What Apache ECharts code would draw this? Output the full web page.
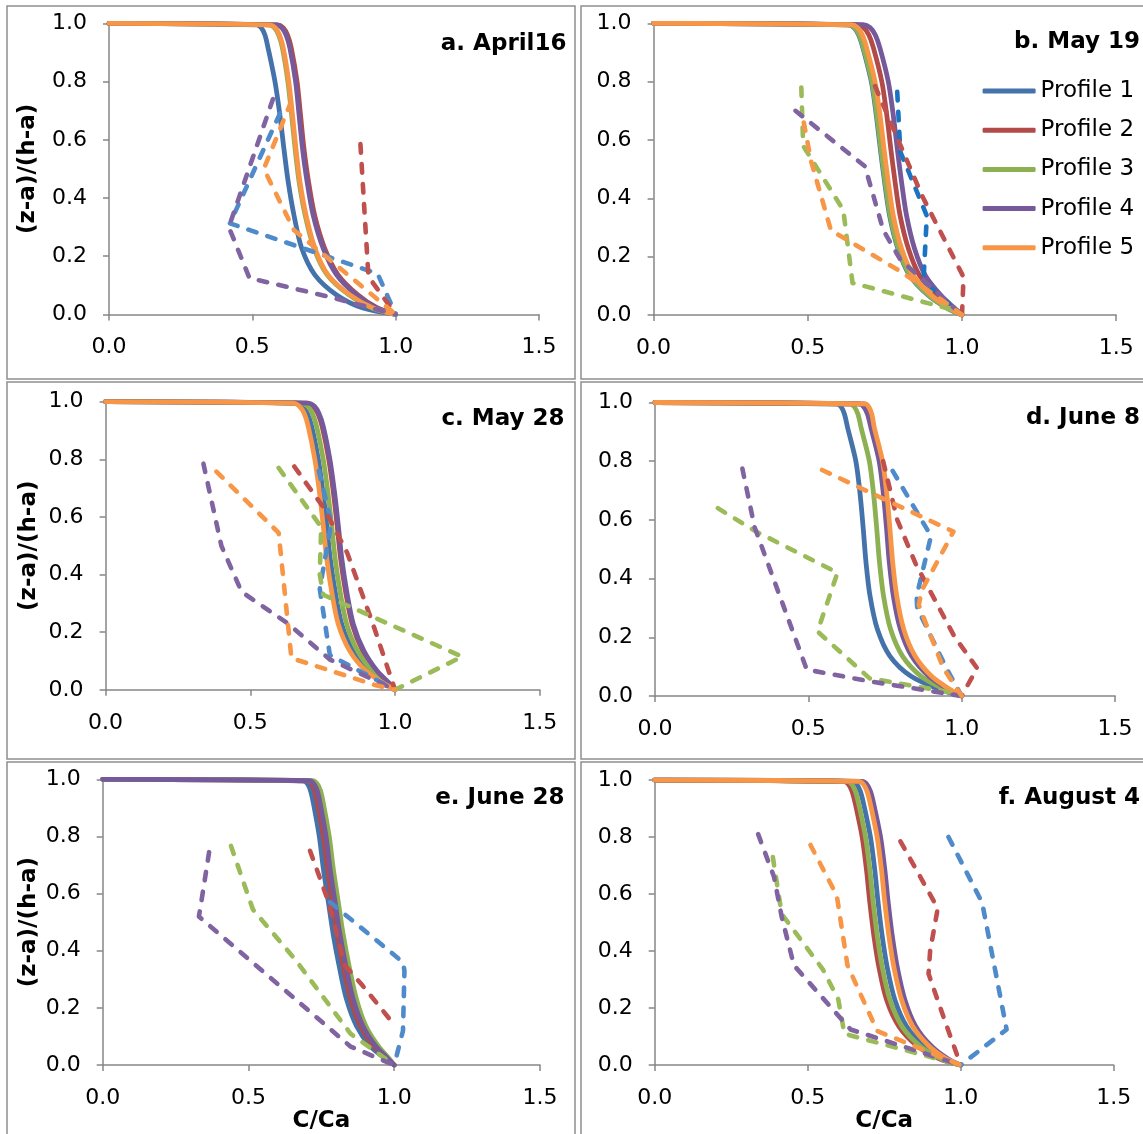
<!DOCTYPE html>
<html>
<head>
<meta charset="utf-8">
<script src="https://cdn.jsdelivr.net/npm/echarts@6/dist/echarts.min.js"></script>
<style>
html,body{margin:0;padding:0;background:#fff;}
#chart{width:1143px;height:1134px;}
</style>
</head>
<body>
<div id="chart"></div>
<script>
// ---------- data ----------
const panelTitles = ['a. April16', 'b. May 19', 'c. May 28', 'd. June 8', 'e. June 28', 'f. August 4'];
const profileNames = ['Profile 1', 'Profile 2', 'Profile 3', 'Profile 4', 'Profile 5'];
const xTickLabels = ['0.0', '0.5', '1.0', '1.5'];
const yTickLabels = ['0.0', '0.2', '0.4', '0.6', '0.8', '1.0'];

// y levels at which the modelled (solid) curves were read
const ySolid = [1.0, 0.995, 0.985, 0.96, 0.915, 0.80, 0.686, 0.571, 0.456, 0.342, 0.228, 0.136, 0.067, 0.022, 0.0];

// modelled C/Ca at the ySolid levels
const aM1 = [0, 0.515, 0.531, 0.544, 0.555, 0.579, 0.596, 0.610, 0.625, 0.645, 0.672, 0.718, 0.794, 0.886, 1.0];
const aM2 = [0, 0.590, 0.608, 0.623, 0.636, 0.656, 0.668, 0.680, 0.696, 0.717, 0.752, 0.799, 0.868, 0.936, 1.0];
const aM3 = [0, 0.558, 0.577, 0.592, 0.605, 0.624, 0.637, 0.649, 0.663, 0.684, 0.715, 0.761, 0.837, 0.919, 1.0];
const aM4 = [0, 0.585, 0.603, 0.618, 0.631, 0.651, 0.663, 0.675, 0.691, 0.712, 0.747, 0.794, 0.863, 0.933, 1.0];
const aM5 = [0, 0.561, 0.580, 0.595, 0.608, 0.627, 0.640, 0.652, 0.666, 0.687, 0.718, 0.764, 0.840, 0.921, 1.0];

const bM1 = [0, 0.630, 0.650, 0.665, 0.679, 0.706, 0.722, 0.735, 0.749, 0.765, 0.792, 0.830, 0.891, 0.954, 1.0];
const bM2 = [0, 0.660, 0.681, 0.698, 0.713, 0.740, 0.756, 0.769, 0.783, 0.799, 0.826, 0.862, 0.918, 0.970, 1.0];
const bM3 = [0, 0.632, 0.652, 0.667, 0.681, 0.708, 0.724, 0.737, 0.751, 0.767, 0.794, 0.832, 0.893, 0.955, 1.0];
const bM4 = [0, 0.680, 0.702, 0.719, 0.734, 0.761, 0.777, 0.790, 0.804, 0.820, 0.846, 0.881, 0.932, 0.977, 1.0];
const bM5 = [0, 0.642, 0.662, 0.677, 0.691, 0.718, 0.734, 0.747, 0.761, 0.777, 0.804, 0.842, 0.902, 0.961, 1.0];

const cM1 = [0, 0.660, 0.681, 0.697, 0.712, 0.735, 0.751, 0.764, 0.776, 0.793, 0.816, 0.854, 0.907, 0.967, 1.0];
const cM2 = [0, 0.695, 0.716, 0.733, 0.748, 0.771, 0.787, 0.800, 0.812, 0.829, 0.852, 0.888, 0.934, 0.979, 1.0];
const cM3 = [0, 0.675, 0.697, 0.714, 0.729, 0.752, 0.768, 0.781, 0.793, 0.810, 0.833, 0.870, 0.920, 0.973, 1.0];
const cM4 = [0, 0.700, 0.721, 0.737, 0.752, 0.775, 0.791, 0.804, 0.816, 0.833, 0.856, 0.892, 0.937, 0.981, 1.0];
const cM5 = [0, 0.649, 0.669, 0.686, 0.700, 0.723, 0.739, 0.752, 0.764, 0.781, 0.804, 0.843, 0.898, 0.962, 1.0];

const dM1 = [0, 0.593, 0.607, 0.618, 0.628, 0.655, 0.669, 0.679, 0.688, 0.701, 0.725, 0.766, 0.835, 0.930, 1.0];
const dM2 = [0, 0.682, 0.694, 0.704, 0.712, 0.739, 0.753, 0.763, 0.772, 0.785, 0.808, 0.845, 0.899, 0.960, 1.0];
const dM3 = [0, 0.636, 0.650, 0.662, 0.672, 0.699, 0.713, 0.723, 0.732, 0.745, 0.768, 0.807, 0.868, 0.945, 1.0];
const dM4 = [0, 0.665, 0.681, 0.693, 0.704, 0.731, 0.745, 0.755, 0.764, 0.777, 0.800, 0.837, 0.893, 0.957, 1.0];
const dM5 = [0, 0.685, 0.697, 0.707, 0.715, 0.742, 0.756, 0.766, 0.775, 0.788, 0.811, 0.848, 0.902, 0.962, 1.0];

const eM1 = [0, 0.688, 0.702, 0.713, 0.723, 0.743, 0.757, 0.774, 0.791, 0.812, 0.837, 0.871, 0.917, 0.970, 1.0];
const eM2 = [0, 0.700, 0.715, 0.727, 0.737, 0.757, 0.771, 0.788, 0.805, 0.826, 0.851, 0.884, 0.928, 0.975, 1.0];
const eM3 = [0, 0.720, 0.735, 0.747, 0.757, 0.777, 0.791, 0.808, 0.825, 0.846, 0.871, 0.903, 0.945, 0.983, 1.0];
const eM4 = [0, 0.710, 0.724, 0.736, 0.746, 0.766, 0.780, 0.797, 0.814, 0.835, 0.860, 0.893, 0.936, 0.979, 1.0];
const eM5 = null;

const fM1 = [0, 0.645, 0.660, 0.672, 0.683, 0.705, 0.719, 0.730, 0.743, 0.760, 0.785, 0.823, 0.880, 0.944, 1.0];
const fM2 = [0, 0.618, 0.633, 0.645, 0.656, 0.678, 0.692, 0.703, 0.716, 0.733, 0.758, 0.798, 0.858, 0.930, 1.0];
const fM3 = [0, 0.629, 0.644, 0.656, 0.667, 0.689, 0.703, 0.714, 0.727, 0.744, 0.769, 0.808, 0.867, 0.936, 1.0];
const fM4 = [0, 0.678, 0.693, 0.705, 0.716, 0.738, 0.752, 0.763, 0.776, 0.793, 0.818, 0.853, 0.904, 0.958, 1.0];
const fM5 = [0, 0.667, 0.682, 0.694, 0.705, 0.727, 0.741, 0.752, 0.765, 0.782, 0.807, 0.843, 0.896, 0.953, 1.0];

// measured profiles (dashed): [C/Ca, (z-a)/(h-a)]
const aO1 = [[0.596,0.69],[0.422,0.313],[0.937,0.14],[1.0,0.0]];
const aO2 = [[0.877,0.585],[0.905,0.13],[1.0,0.0]];
const aO3 = null;
const aO4 = [[0.572,0.74],[0.418,0.30],[0.49,0.125],[0.77,0.06],[1.0,0.0]];
const aO5 = [[0.635,0.73],[0.54,0.50],[0.645,0.29],[1.0,0.0]];

const bO1 = [[0.79,0.765],[0.80,0.56],[0.886,0.34],[0.875,0.115],[1.0,0.0]];
const bO2 = [[0.718,0.785],[0.87,0.41],[1.005,0.13],[1.0,0.0]];
const bO3 = [[0.479,0.78],[0.485,0.58],[0.615,0.36],[0.645,0.11],[0.98,0.015],[1.0,0.0]];
const bO4 = [[0.46,0.70],[0.685,0.51],[0.745,0.29],[0.80,0.19],[1.0,0.0]];
const bO5 = [[0.487,0.66],[0.51,0.53],[0.575,0.29],[0.80,0.15],[0.95,0.04],[1.0,0.0]];

const cO1 = [[0.737,0.76],[0.78,0.58],[0.74,0.35],[0.775,0.12],[1.0,0.0]];
const cO2 = [[0.652,0.775],[0.755,0.63],[0.835,0.475],[0.925,0.225],[1.0,0.0]];
const cO3 = [[0.598,0.77],[0.745,0.565],[0.74,0.40],[0.752,0.33],[1.232,0.115],[1.0,0.0]];
const cO4 = [[0.338,0.785],[0.40,0.50],[0.47,0.34],[0.63,0.23],[0.775,0.105],[1.0,0.0]];
const cO5 = [[0.383,0.757],[0.598,0.545],[0.642,0.11],[0.93,0.017],[1.0,0.0]];

const dO1 = [[0.775,0.767],[0.90,0.545],[0.853,0.34],[0.855,0.30],[0.95,0.095],[1.0,0.0]];
const dO2 = [[0.744,0.80],[0.79,0.60],[0.85,0.45],[0.975,0.205],[1.05,0.095],[1.0,0.0]];
const dO3 = [[0.205,0.64],[0.33,0.56],[0.595,0.42],[0.53,0.22],[0.70,0.06],[0.95,0.015],[1.0,0.0]];
const dO4 = [[0.285,0.775],[0.325,0.575],[0.495,0.09],[0.70,0.05],[1.0,0.0]];
const dO5 = [[0.545,0.77],[0.973,0.56],[0.87,0.36],[0.86,0.31],[0.94,0.095],[1.0,0.0]];

const eO1 = [[0.78,0.57],[1.03,0.36],[1.035,0.33],[1.03,0.12],[1.0,0.0]];
const eO2 = [[0.711,0.75],[0.775,0.57],[0.83,0.35],[0.89,0.28],[1.005,0.135]];
const eO3 = [[0.44,0.767],[0.515,0.545],[0.66,0.37],[0.85,0.11],[1.0,0.0]];
const eO4 = [[0.365,0.745],[0.335,0.55],[0.33,0.52],[0.85,0.065],[1.0,0.0]];
const eO5 = null;

const fO1 = [[0.96,0.80],[1.07,0.57],[1.15,0.125],[1.0,0.0]];
const fO2 = [[0.803,0.785],[0.925,0.55],[0.90,0.40],[0.895,0.32],[0.945,0.165],[1.0,0.0]];
const fO3 = [[0.386,0.73],[0.415,0.53],[0.55,0.335],[0.60,0.23],[0.62,0.11],[1.0,0.0]];
const fO4 = [[0.338,0.81],[0.39,0.66],[0.415,0.52],[0.455,0.35],[0.64,0.125],[1.0,0.0]];
const fO5 = [[0.509,0.772],[0.595,0.595],[0.63,0.35],[0.727,0.12],[1.0,0.0]];

const models = [
  [aM1, aM2, aM3, aM4, aM5], [bM1, bM2, bM3, bM4, bM5], [cM1, cM2, cM3, cM4, cM5],
  [dM1, dM2, dM3, dM4, dM5], [eM1, eM2, eM3, eM4, eM5], [fM1, fM2, fM3, fM4, fM5]
];
const observed = [
  [aO1, aO2, aO3, aO4, aO5], [bO1, bO2, bO3, bO4, bO5], [cO1, cO2, cO3, cO4, cO5],
  [dO1, dO2, dO3, dO4, dO5], [eO1, eO2, eO3, eO4, eO5], [fO1, fO2, fO3, fO4, fO5]
];

// ---------- styling / layout ----------
const FONT = "'DejaVu Sans', sans-serif";
const solidColors = ['#4472AA', '#B24B48', '#8DB052', '#76599A', '#F79646'];
const dashColors = ['#4F8BCB', '#C0504D', '#9BBB59', '#8064A2', '#F79646'];
const dashColorsB = ['#1A74C2', '#C0504D', '#9BBB59', '#8064A2', '#F79646'];
const axisGray = '#868686';

const grids = [
  {left: 109,   top: 23.4,  width: 430,   height: 291},
  {left: 653.6, top: 23.3,  width: 462.6, height: 291.7},
  {left: 105.6, top: 401.7, width: 434.1, height: 288.1},
  {left: 654.9, top: 402.5, width: 460.2, height: 293.5},
  {left: 102.7, top: 779.3, width: 437.3, height: 296.7},
  {left: 654.7, top: 780,   width: 459,   height: 293.5}
];
const yNameGap = [69, null, 65, null, 62, null];
const titlePos = [
  {right: 576.5, top: 33}, {right: 3, top: 31}, {right: 578.5, top: 407.5},
  {right: 3, top: 407}, {right: 578.5, top: 786.5}, {right: 3, top: 787}
];

const xAxes = [], yAxes = [], series = [], titles = [];
grids.forEach((g, p) => {
  xAxes.push({
    type: 'value', gridIndex: p, min: 0, max: 1.5, interval: 0.5,
    axisLine: {show: true, lineStyle: {color: axisGray, width: 1.5}},
    axisTick: {show: true, length: 6, lineStyle: {color: axisGray, width: 1.5}},
    splitLine: {show: false},
    axisLabel: {margin: 22, fontSize: 22, fontFamily: FONT, color: '#000',
      formatter: v => xTickLabels[Math.round(v / 0.5)]},
    name: p >= 4 ? 'C/Ca' : '', nameLocation: 'middle', nameGap: p === 4 ? 39 : 41,
    nameTextStyle: {fontSize: 23, fontWeight: 'bold', fontFamily: FONT, color: '#000'}
  });
  yAxes.push({
    type: 'value', gridIndex: p, min: 0, max: 1, interval: 0.2,
    axisLine: {show: true, lineStyle: {color: axisGray, width: 1.5}},
    axisTick: {show: true, length: 6, lineStyle: {color: axisGray, width: 1.5}},
    splitLine: {show: false},
    axisLabel: {margin: 22, fontSize: 22, fontFamily: FONT, color: '#000',
      formatter: v => yTickLabels[Math.round(v / 0.2)]},
    name: p % 2 === 0 ? '(z-a)/(h-a)' : '', nameLocation: 'middle', nameRotate: 90,
    nameGap: yNameGap[p] || 60,
    nameTextStyle: {fontSize: 23, fontWeight: 'bold', fontFamily: FONT, color: '#000'}
  });
  titles.push({
    text: panelTitles[p], right: titlePos[p].right, top: titlePos[p].top, padding: 0,
    textStyle: {fontSize: 23, fontWeight: 'bold', fontFamily: FONT, color: '#000'}
  });
  models[p].forEach((xs, k) => {
    if (!xs) return;
    series.push({
      name: profileNames[k], type: 'line', xAxisIndex: p, yAxisIndex: p,
      data: ySolid.map((y, i) => [xs[i], y]),
      symbol: 'none', showSymbol: false, smooth: 0.3, z: 2 + k * 0.01,
      color: solidColors[k],
      lineStyle: {width: 4.8, color: solidColors[k], cap: 'round', join: 'round'},
      emphasis: {disabled: true}, silent: true
    });
  });
  observed[p].forEach((pts, k) => {
    if (!pts) return;
    const c = (p === 1 ? dashColorsB : dashColors)[k];
    series.push({
      name: profileNames[k] + ' measured', type: 'line', xAxisIndex: p, yAxisIndex: p,
      data: pts, symbol: 'none', showSymbol: false, smooth: false, z: 3 + k * 0.01,
      color: c,
      lineStyle: {width: 4.6, color: c, type: [8.5, 11.5], cap: 'round', join: 'round'},
      emphasis: {disabled: true}, silent: true
    });
  });
});

const borderStyle = {stroke: '#8f8f8f', lineWidth: 1.5, fill: 'none'};
const panelBoxes = [
  [7, 6, 568, 373], [581, 6, 580, 373],
  [7, 382, 568, 377], [581, 382, 580, 377],
  [7, 762, 568, 390], [581, 762, 580, 390]
];

const option = {
  backgroundColor: '#fff',
  animation: false,
  title: titles,
  grid: grids,
  xAxis: xAxes,
  yAxis: yAxes,
  legend: {
    data: profileNames, orient: 'vertical', left: 982.6, top: 78,
    icon: 'roundRect', itemWidth: 53, itemHeight: 5, itemGap: 13.2,
    selectedMode: false, padding: 0,
    textStyle: {fontSize: 23, fontFamily: FONT, color: '#000', lineHeight: 26}
  },
  graphic: panelBoxes.map(b => ({
    type: 'rect', silent: true, z: -1,
    shape: {x: b[0], y: b[1], width: b[2], height: b[3]},
    style: borderStyle
  })),
  series: series
};

const chart = echarts.init(document.getElementById('chart'), null, {renderer: 'canvas'});
chart.setOption(option);
</script>
</body>
</html>
